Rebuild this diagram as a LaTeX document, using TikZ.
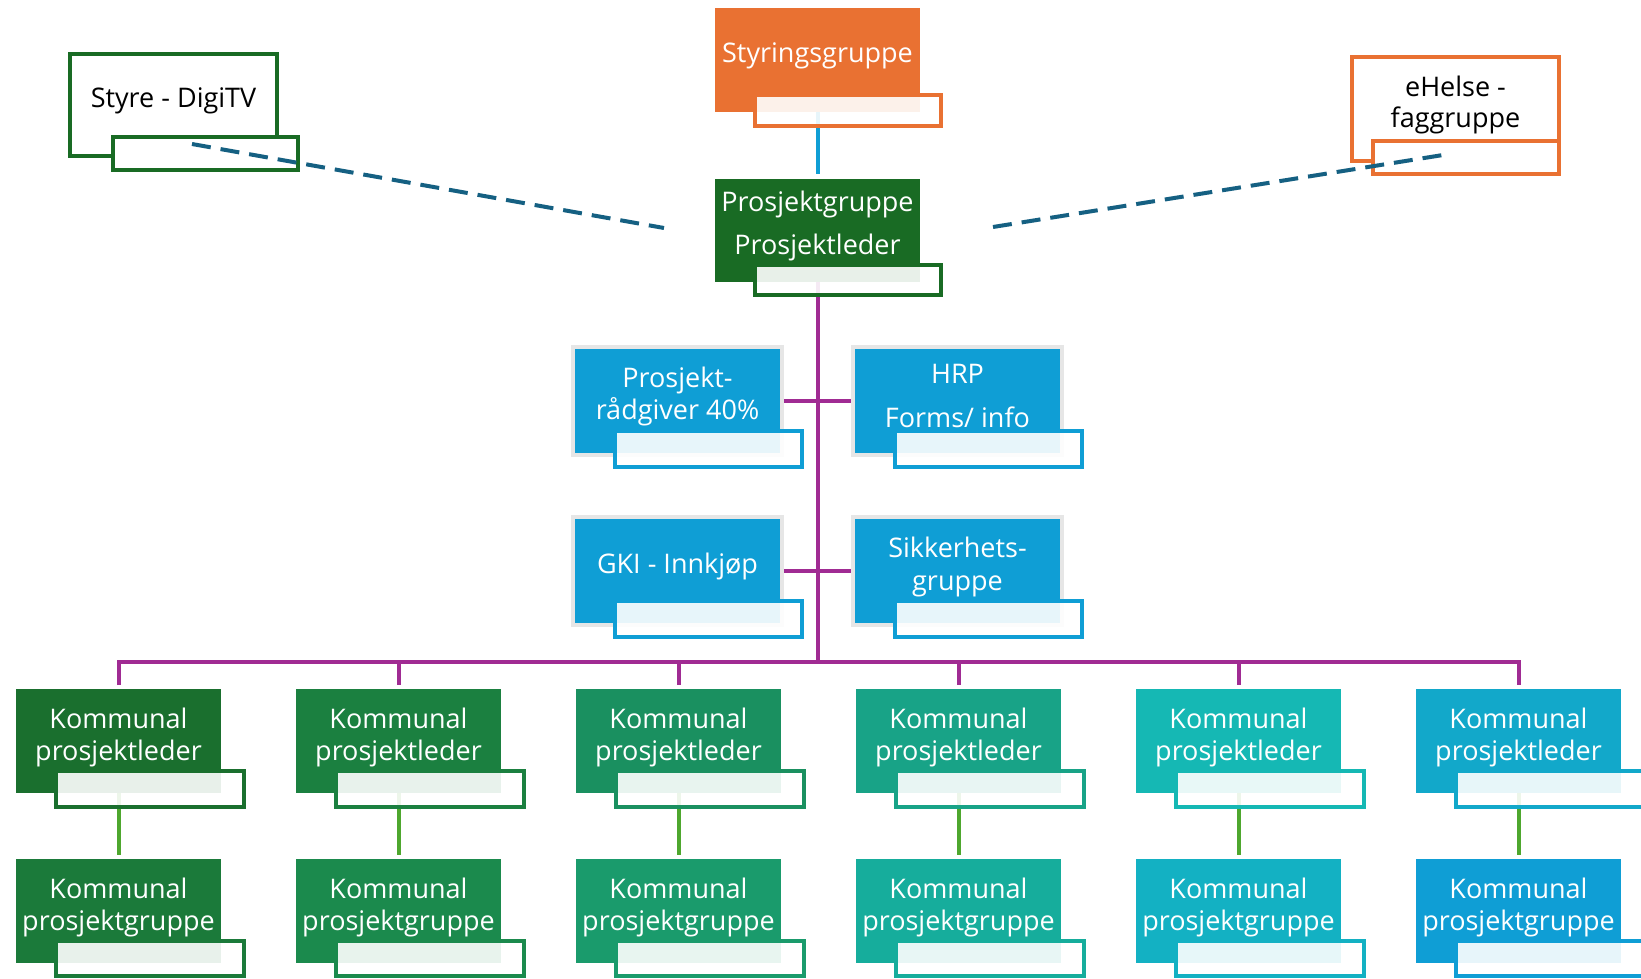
\documentclass[tikz,border=0pt]{standalone}
\usepackage{fontspec}
\setmainfont{Open Sans}
\usetikzlibrary{backgrounds}
\definecolor{orng}{HTML}{E97132}
\definecolor{dkgreen}{HTML}{196B24}
\definecolor{bblue}{HTML}{0F9ED5}
\definecolor{purp}{HTML}{A02B93}
\definecolor{lgreen}{HTML}{4EA72E}
\definecolor{dashc}{HTML}{156082}
\definecolor{gborder}{HTML}{E6E6E6}
\definecolor{ka0}{HTML}{1A6F2E}
\definecolor{ka1}{HTML}{1B8040}
\definecolor{ka2}{HTML}{1A9060}
\definecolor{ka3}{HTML}{18A387}
\definecolor{ka4}{HTML}{15B8B4}
\definecolor{ka5}{HTML}{12A8CA}
\definecolor{kb0}{HTML}{1B7A3A}
\definecolor{kb1}{HTML}{1B8A4D}
\definecolor{kb2}{HTML}{1A9B6C}
\definecolor{kb3}{HTML}{16AD9C}
\definecolor{kb4}{HTML}{13B1C3}
\definecolor{kb5}{HTML}{0F9ED5}
\begin{document}
\begin{tikzpicture}[x=1pt,y=-1pt,
  mainbox/.style={rectangle, inner sep=0pt, outer sep=0pt, minimum width=205pt, minimum height=104pt},
  linebox/.style={rectangle, inner sep=0pt, outer sep=0pt, line width=4pt, fill=white},
  bluebox/.style={rectangle, inner sep=0pt, outer sep=0pt, fill=bblue, draw=gborder, line width=4pt, minimum width=209pt, minimum height=108pt},
  subbox/.style={rectangle, anchor=north west, inner sep=0pt, outer sep=0pt, line width=3.5pt, fill=white, fill opacity=0.9, minimum width=188pt, minimum height=36pt},
  lbl/.style={font=\fontsize{27}{32}\selectfont, text=white, align=center, inner sep=0pt},
  blbl/.style={lbl, text=black},
  conn/.style={line width=4pt},
  dashline/.style={line width=4pt, draw=dashc, dash pattern=on 19pt off 10pt},
]
\useasboundingbox (0,0) rectangle (1641,979);

% top
\node[mainbox, fill=orng, minimum height=104pt] (sty) at (817.5,60) {};
\node[subbox, draw=orng, minimum width=186pt, minimum height=31pt] (stys) at (755,95) {};
\node[lbl] at ([yshift=4pt]sty.center) {Styringsgruppe};

\node[mainbox, fill=dkgreen, minimum height=103pt] (pg) at (817.5,230.5) {};
\node[subbox, draw=dkgreen, minimum width=186pt, minimum height=30pt] (pgs) at (755,265) {};
\node[lbl] at ([yshift=4.5pt]pg.center) {Prosjektgruppe\\[11pt]Prosjektleder};

\node[linebox, draw=dkgreen, minimum width=207pt, minimum height=102pt] (styre) at (173.5,105) {};
\node[subbox, draw=dkgreen, line width=4pt, fill opacity=1, minimum width=185pt, minimum height=33pt] (styres) at (113,137) {};
\node[blbl] at ([yshift=4.5pt]styre.center) {Styre - DigiTV};

\node[linebox, draw=orng, minimum width=207pt, minimum height=104pt] (ehelse) at (1455.5,109) {};
\node[subbox, draw=orng, line width=4pt, fill opacity=1, minimum width=186pt, minimum height=33pt] (ehelses) at (1373,141) {};
\node[blbl, font=\fontsize{27}{31}\selectfont] at ([yshift=4pt]ehelse.center) {eHelse -\\faggruppe};

% blue boxes
\node[bluebox] (prg) at (677.5,401) {};
\node[subbox, draw=bblue, line width=4pt, minimum width=187pt, minimum height=36pt] (prgs) at (615,431) {};
\node[lbl] at ([yshift=5pt]prg.center) {Prosjekt-\\rådgiver 40\%};

\node[bluebox] (hrp) at (957.5,401) {};
\node[subbox, draw=bblue, line width=4pt, minimum width=187pt, minimum height=36pt] (hrps) at (895,431) {};
\node[lbl] at ([yshift=5pt]hrp.center) {HRP\\[12pt]Forms/ info};

\node[bluebox] (gki) at (677.5,571) {};
\node[subbox, draw=bblue, line width=4pt, minimum width=187pt, minimum height=36pt] (gkis) at (615,601) {};
\node[lbl] at ([yshift=5pt]gki.center) {GKI - Innkjøp};

\node[bluebox] (sik) at (957.5,571) {};
\node[subbox, draw=bblue, line width=4pt, minimum width=187pt, minimum height=36pt] (siks) at (895,601) {};
\node[lbl, font=\fontsize{27}{33}\selectfont] at ([yshift=4.5pt]sik.center) {Sikkerhets-\\gruppe};

% kommunal columns
\foreach \i in {0,...,5} {
  \node[mainbox, fill=ka\i] (kl\i) at ({118.5+280*\i},741) {};
  \node[subbox, draw=ka\i] (kls\i) at ({56+280*\i},771) {};
  \node[lbl] at ([yshift=4pt]kl\i.center) {Kommunal\\prosjektleder};
  \node[mainbox, fill=kb\i] (kg\i) at ({118.5+280*\i},911) {};
  \node[subbox, draw=kb\i, minimum height=35pt] (kgs\i) at ({56+280*\i},941) {};
  \node[lbl] at ([yshift=4pt]kg\i.center) {Kommunal\\prosjektgruppe};
}

\coordinate (bar) at (817.5,662);

\begin{pgfonlayer}{background}
  \draw[conn, bblue] (sty.south) -- ([yshift=5pt]pg.north);
  \draw[conn, purp] (pg.south) -- (bar);
  \draw[conn, purp] (prg.east) -- (hrp.west);
  \draw[conn, purp] (gki.east) -- (sik.west);
  \draw[conn, purp] ([yshift=4pt]kl0.north) -- (kl0.north |- bar) -- (kl5.north |- bar) -- ([yshift=4pt]kl5.north);
  \foreach \i in {1,...,4} {
    \draw[conn, purp] (kl\i.north |- bar) -- ([yshift=4pt]kl\i.north);
  }
  \foreach \i in {0,...,5} {
    \draw[conn, lgreen] (kl\i.south) -- ([yshift=4pt]kg\i.north);
  }
\end{pgfonlayer}

% dashed links
\coordinate (d1) at (192,144);
\coordinate (d2) at (664,228);
\coordinate (d3) at (993,227);
\coordinate (d4) at (1443,155);
\draw[dashline] (d1) -- (d2);
\draw[dashline] (d3) -- (d4);
\end{tikzpicture}
\end{document}
